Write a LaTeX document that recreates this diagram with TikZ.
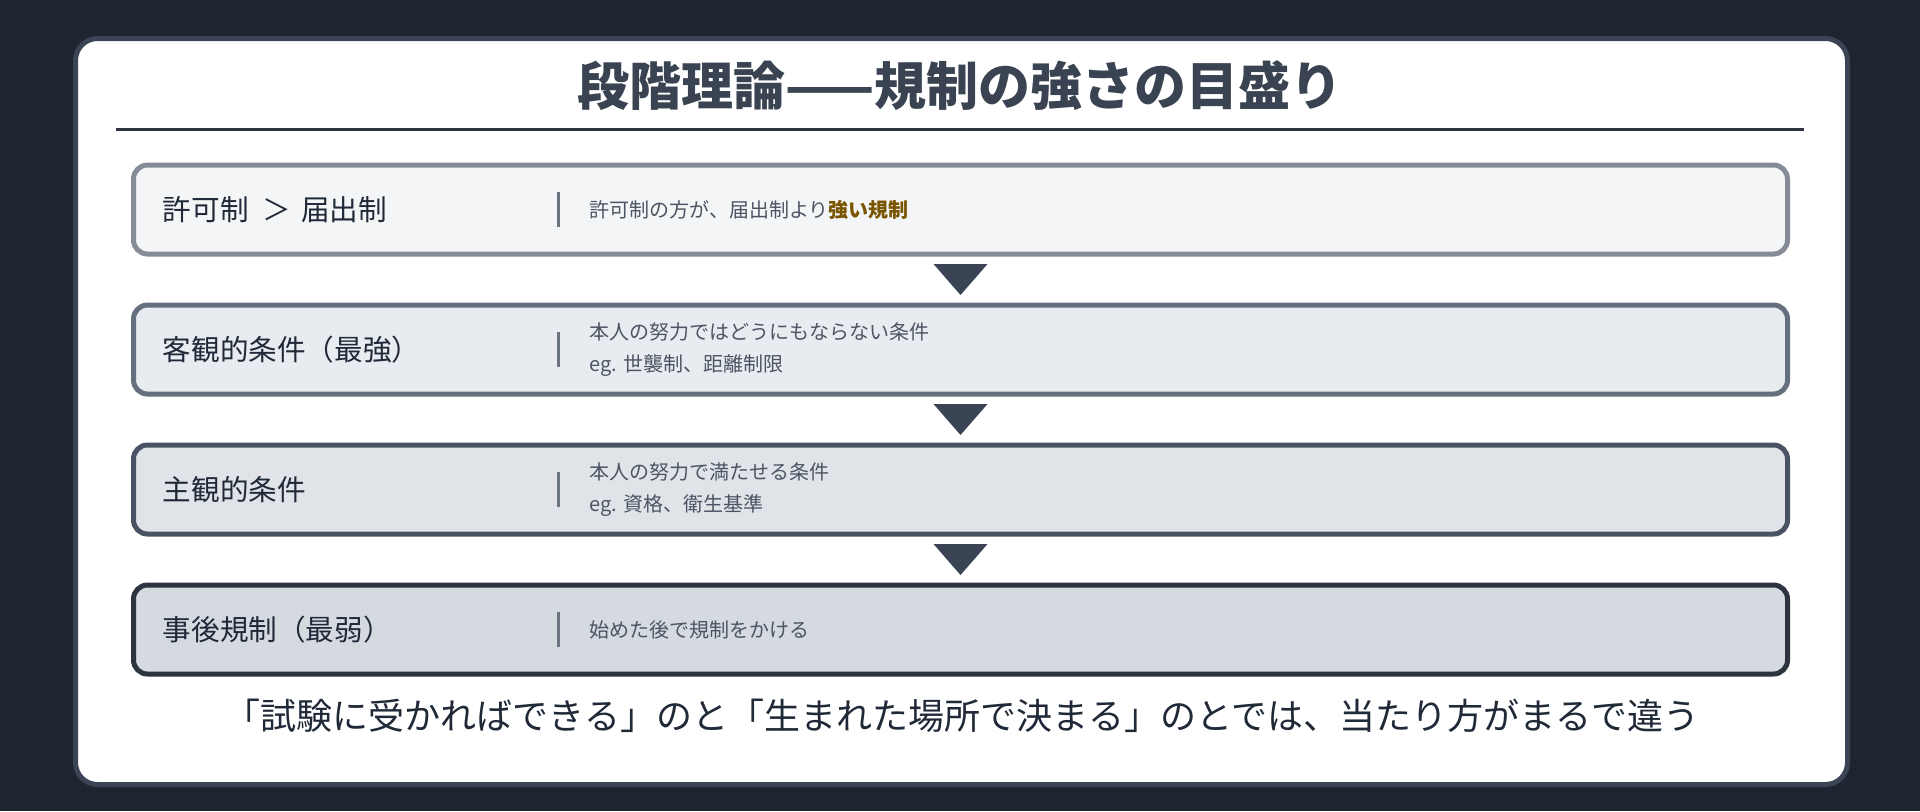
\documentclass[tikz,border=0pt]{standalone}
\usepackage{fontspec}
\setmainfont{Noto Sans CJK JP}
\usetikzlibrary{calc,positioning}

\definecolor{bgdark}{HTML}{1E2530}
\definecolor{cardline}{HTML}{3B4454}
\definecolor{titletext}{HTML}{3A4352}
\definecolor{ruleline}{HTML}{2D3440}
\definecolor{labeltext}{HTML}{1F2937}
\definecolor{notetext}{HTML}{4B5563}
\definecolor{divgray}{HTML}{6B7280}
\definecolor{strongtext}{HTML}{7A5500}
\definecolor{arrowgray}{HTML}{3B4454}

\tikzset{
	stage/.style={draw, rounded corners=7pt, line width=2.5pt, minimum width=827pt, minimum height=44.5pt, inner sep=0pt},
	stagename/.style={inner sep=0pt, text=labeltext, font=\fontsize{14.3pt}{17pt}\selectfont},
	stagenote/.style={inner sep=0pt, align=left, text=notetext, font=\fontsize{10pt}{16pt}\selectfont},
	divider/.style={line width=1.5pt, color=divgray},
	marker/.style={fill=arrowgray},
}

\begin{document}
\begin{tikzpicture}[x=0.5pt, y=-0.5pt]
			%%%%% START %%%%%
			
			\fill[bgdark] (0, 0) rectangle (1920, 811);
			\useasboundingbox (0, 0) rectangle (1920, 811);
			
			\draw[fill=white, draw=cardline, line width=2.5pt, rounded corners=11pt] (75.5, 38.5) rectangle (1847.5, 784.5);
			
			\node[text=titletext, font=\fontsize{26pt}{30pt}\selectfont\bfseries] (title) at (960, 86) {段階理論——規制の強さの目盛り};
			\draw[ruleline, line width=1.5pt] (116, 129) -- (1804, 129);
			
			\node[stage, draw={rgb,255:red,133;green,140;blue,152}, fill={rgb,255:red,244;green,245;blue,247}] (b1) at (960.5, 209.5) {};
			\node[stage, draw={rgb,255:red,102;green,111;blue,125}, fill={rgb,255:red,232;green,235;blue,239}] (b2) at (960.5, 349.5) {};
			\node[stage, draw={rgb,255:red,74;green,83;blue,99}, fill={rgb,255:red,224;green,227;blue,232}] (b3) at (960.5, 489.5) {};
			\node[stage, draw={rgb,255:red,45;green,52;blue,64}, fill={rgb,255:red,213;green,217;blue,224}] (b4) at (960.5, 629.5) {};
			
			\node[stagename, right=15.75pt of b1.west] (l1) {許可制\hspace{7pt}＞\hspace{5pt}届出制};
			\node[stagename, right=15.75pt of b2.west] (l2) {客観的条件（最強）};
			\node[stagename, right=15.75pt of b3.west] (l3) {主観的条件};
			\node[stagename, right=15.75pt of b4.west] (l4) {事後規制（最弱）};
			
			\draw[divider] ($(b1.west)+(213.75pt, 8.75pt)$) -- ($(b1.west)+(213.75pt, -8.75pt)$);
			\draw[divider] ($(b2.west)+(213.75pt, 8.75pt)$) -- ($(b2.west)+(213.75pt, -8.75pt)$);
			\draw[divider] ($(b3.west)+(213.75pt, 8.75pt)$) -- ($(b3.west)+(213.75pt, -8.75pt)$);
			\draw[divider] ($(b4.west)+(213.75pt, 8.75pt)$) -- ($(b4.west)+(213.75pt, -8.75pt)$);
			
			\node[stagenote, right=229pt of b1.west] (d1) {許可制の方が、届出制より{\bfseries\color{strongtext}強い規制}};
			\node[stagenote, right=229pt of b2.west] (d2) {本人の努力ではどうにもならない条件\\eg. 世襲制、距離制限};
			\node[stagenote, right=229pt of b3.west] (d3) {本人の努力で満たせる条件\\eg. 資格、衛生基準};
			\node[stagenote, right=229pt of b4.west] (d4) {始めた後で規制をかける};
			
			\coordinate (m1) at ($(b1.south)!0.5!(b2.north)$);
			\coordinate (m2) at ($(b2.south)!0.5!(b3.north)$);
			\coordinate (m3) at ($(b3.south)!0.5!(b4.north)$);
			\fill[marker] ([shift={(-13.5pt, 7.75pt)}]m1) -- ([shift={(13.5pt, 7.75pt)}]m1) -- ([shift={(0pt, -7.75pt)}]m1) -- cycle;
			\fill[marker] ([shift={(-13.5pt, 7.75pt)}]m2) -- ([shift={(13.5pt, 7.75pt)}]m2) -- ([shift={(0pt, -7.75pt)}]m2) -- cycle;
			\fill[marker] ([shift={(-13.5pt, 7.75pt)}]m3) -- ([shift={(13.5pt, 7.75pt)}]m3) -- ([shift={(0pt, -7.75pt)}]m3) -- cycle;
			
			\node[text=labeltext, font=\fontsize{18pt}{22pt}\selectfont] (remark) at (962, 716) {「試験に受かればできる」のと「生まれた場所で決まる」のとでは、当たり方がまるで違う};
			
			%%%%% END %%%%%
\end{tikzpicture}
\end{document}
